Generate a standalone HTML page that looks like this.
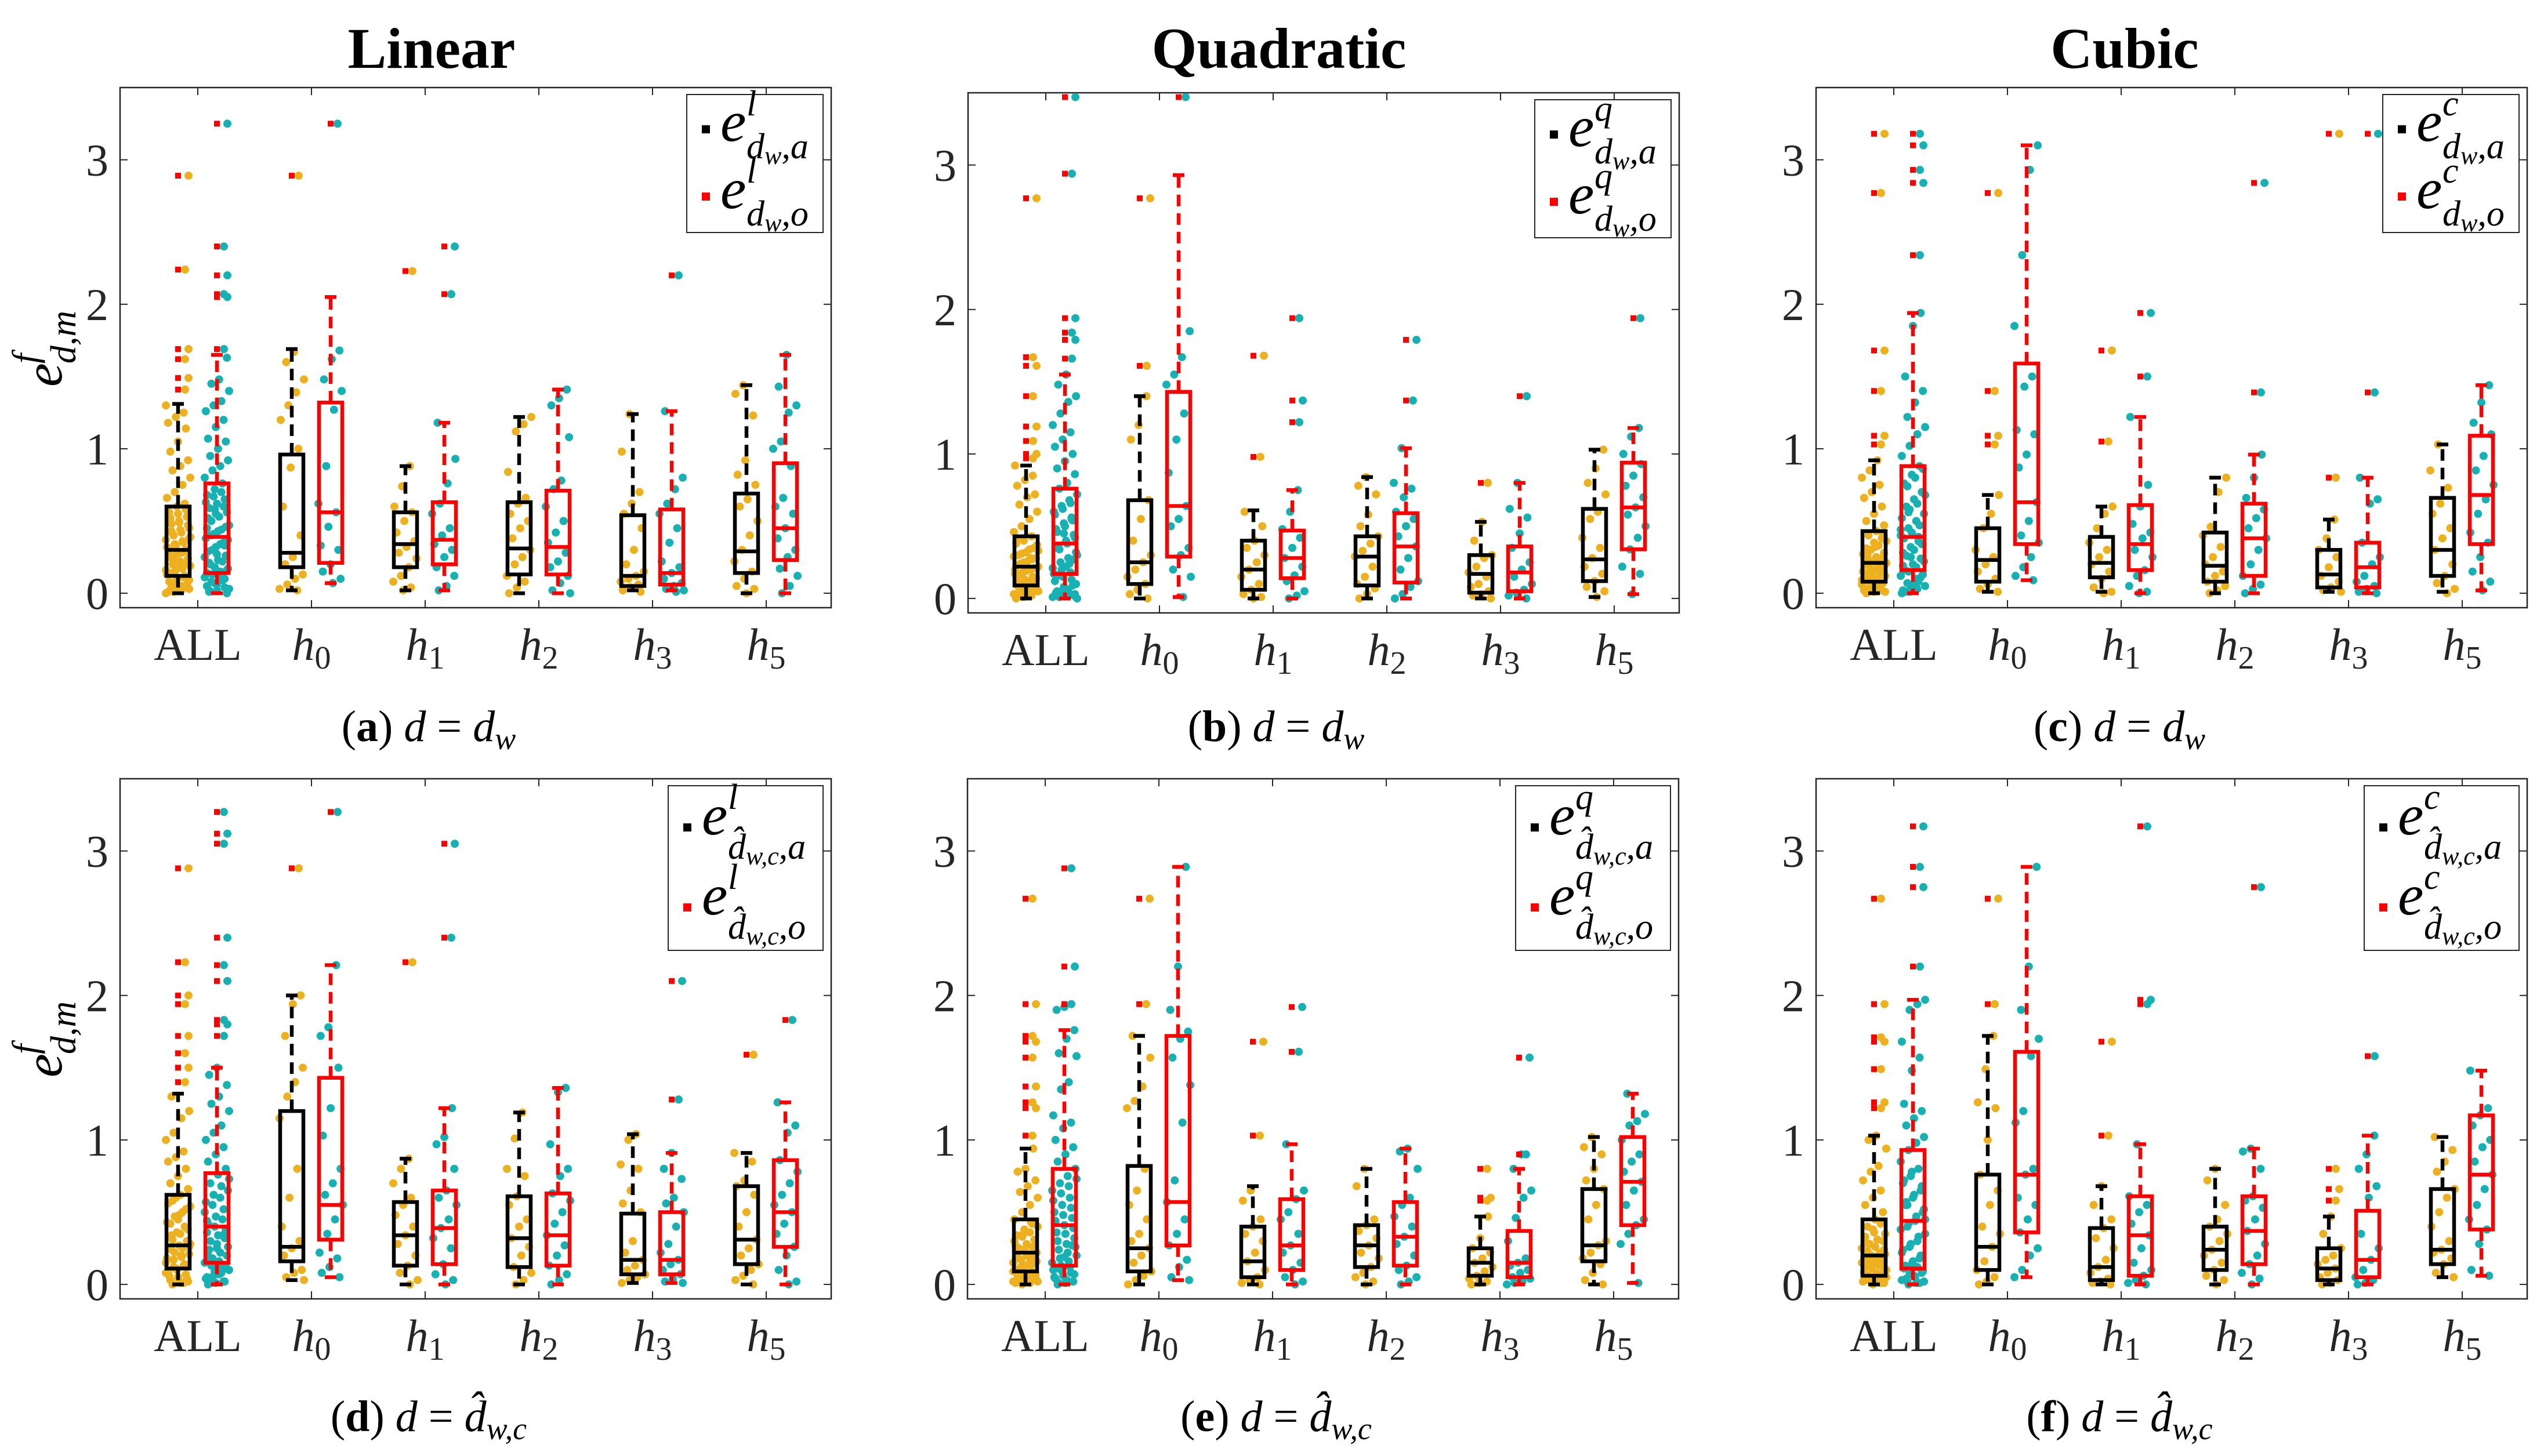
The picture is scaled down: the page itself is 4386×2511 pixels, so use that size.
<!DOCTYPE html>
<html><head><meta charset="utf-8"><style>
html,body{margin:0;padding:0;background:#fff;}
svg{display:block;font-family:"Liberation Serif",serif;}
</style></head><body>
<svg id="fig" xmlns="http://www.w3.org/2000/svg" width="4386" height="2511" viewBox="0 0 4386 2511">
<rect x="0" y="0" width="4386" height="2511" fill="#fff"/>
<text x="744" y="117" font-size="100" font-weight="bold" text-anchor="middle">Linear</text>
<text x="2205" y="117" font-size="100" font-weight="bold" text-anchor="middle">Quadratic</text>
<text x="3663" y="117" font-size="100" font-weight="bold" text-anchor="middle">Cubic</text>
<g transform="translate(106,667) rotate(-90)" font-style="italic">
<text x="0" y="0" font-size="92">e</text><text x="40" y="-42" font-size="62">f</text><text x="40" y="24" font-size="62">d,m</text></g>
<g transform="translate(106,1858) rotate(-90)" font-style="italic">
<text x="0" y="0" font-size="92">e</text><text x="40" y="-42" font-size="62">f</text><text x="40" y="24" font-size="62">d,m</text></g>
<text x="739" y="1278" font-size="76" text-anchor="middle">(<tspan font-weight="bold">a</tspan>) <tspan font-style="italic">d</tspan> = <tspan font-style="italic">d</tspan><tspan font-style="italic" font-size="54" dy="14">w</tspan></text>
<text x="2200" y="1278" font-size="76" text-anchor="middle">(<tspan font-weight="bold">b</tspan>) <tspan font-style="italic">d</tspan> = <tspan font-style="italic">d</tspan><tspan font-style="italic" font-size="54" dy="14">w</tspan></text>
<text x="3654" y="1278" font-size="76" text-anchor="middle">(<tspan font-weight="bold">c</tspan>) <tspan font-style="italic">d</tspan> = <tspan font-style="italic">d</tspan><tspan font-style="italic" font-size="54" dy="14">w</tspan></text>
<text x="739" y="2468" font-size="76" text-anchor="middle">(<tspan font-weight="bold">d</tspan>) <tspan font-style="italic">d</tspan> = <tspan font-style="italic">d̂</tspan><tspan font-style="italic" font-size="54" dy="14">w,c</tspan></text>
<text x="2200" y="2468" font-size="76" text-anchor="middle">(<tspan font-weight="bold">e</tspan>) <tspan font-style="italic">d</tspan> = <tspan font-style="italic">d̂</tspan><tspan font-style="italic" font-size="54" dy="14">w,c</tspan></text>
<text x="3654" y="2468" font-size="76" text-anchor="middle">(<tspan font-weight="bold">f</tspan>) <tspan font-style="italic">d</tspan> = <tspan font-style="italic">d̂</tspan><tspan font-style="italic" font-size="54" dy="14">w,c</tspan></text>
</svg>
<script>
const categories = ['ALL','h0','h1','h2','h3','h5'];
const yTicks = [0,1,2,3];
const yMin = -0.1, yMax = 3.5;

// Panel a (Linear, d = d_w)
const statsA_a = [[0,0.12,0.30,0.60,1.31],[0.02,0.18,0.28,0.96,1.69],[0.02,0.18,0.34,0.56,0.88],[0,0.13,0.31,0.63,1.22],[0.02,0.05,0.12,0.54,1.24],[0,0.14,0.29,0.69,1.44]];
const statsA_o = [[0,0.14,0.39,0.76,1.65],[0.07,0.21,0.56,1.32,2.05],[0.02,0.20,0.37,0.63,1.18],[0,0.13,0.32,0.71,1.41],[0.02,0.06,0.14,0.58,1.26],[0,0.23,0.45,0.90,1.65]];
const outA_a = [[1.41,1.49,1.62,1.69,2.24,2.89],[2.89],[2.23],[],[],[]];
const outA_o = [[1.69,2.05,2.07,2.2,2.4,3.25],[3.25],[2.07,2.4],[],[2.2],[]];
const ptsA_a = [[0,0.01,0.02,0.03,0.04,0.05,0.06,0.08,0.1,0.12,0.13,0.15,0.17,0.19,0.2,0.22,0.24,0.26,0.28,0.3,0.31,0.33,0.35,0.37,0.4,0.42,0.45,0.48,0.5,0.53,0.56,0.6,0.62,0.66,0.7,0.75,0.8,0.85,0.88,0.92,0.98,1.05,1.14,1.18,1.22,1.25,1.3,0.02,0.05,0.09,0.14,0.18,0.21,0.25,0.27,0.29,0.32,0.34,0.36,0.39,0.41,0.44,0.47,0.52,0.55,0.58,0.01,0.07,0.11,0.16,0.23,0.28,0.38,0.43,0.49],
 [0.02,0.03,0.06,0.1,0.13,0.2,0.25,0.4,0.6,0.87,1.0,1.2,1.3,1.39,1.48,1.6,1.67],
 [0.02,0.04,0.08,0.12,0.18,0.24,0.28,0.32,0.36,0.42,0.5,0.56,0.6,0.74,0.88],
 [0,0.04,0.08,0.12,0.2,0.25,0.3,0.38,0.45,0.5,0.55,0.62,0.66,0.84,1.12,1.17,1.22],
 [0.01,0.02,0.04,0.06,0.08,0.1,0.12,0.15,0.2,0.3,0.45,0.55,0.62,0.7,0.98,1.24],
 [0,0.03,0.05,0.1,0.15,0.22,0.3,0.4,0.5,0.6,0.65,0.75,0.82,0.92,1.23,1.38,1.44]];
const ptsA_o = [[0,0.01,0.02,0.04,0.05,0.07,0.09,0.11,0.13,0.15,0.17,0.2,0.23,0.26,0.29,0.32,0.35,0.38,0.41,0.44,0.47,0.5,0.53,0.56,0.59,0.62,0.65,0.68,0.72,0.76,0.8,0.85,0.88,0.92,0.95,1.0,1.05,1.07,1.15,1.2,1.26,1.3,1.33,1.4,1.45,1.48,1.63,0.02,0.06,0.1,0.14,0.18,0.22,0.25,0.3,0.34,0.37,0.4,0.43,0.46,0.52,0.55,0.6,0.63,0.67,0.7,0.03,0.08,0.12,0.16,0.21,0.27,0.33,0.45,0.58],
 [0.07,0.1,0.15,0.2,0.3,0.33,0.46,0.56,0.62,0.88,1.27,1.4,1.48,1.62,1.68],
 [0.02,0.05,0.12,0.18,0.25,0.3,0.34,0.4,0.45,0.55,0.62,0.76,0.93,1.18],
 [0,0.02,0.07,0.12,0.18,0.22,0.28,0.35,0.42,0.5,0.6,0.72,0.78,1.08,1.3,1.35,1.41],
 [0.01,0.02,0.03,0.05,0.07,0.1,0.14,0.18,0.22,0.35,0.45,0.55,0.62,0.72,0.8,1.26],
 [0,0.05,0.12,0.17,0.25,0.3,0.38,0.45,0.55,0.6,0.66,0.88,1.0,1.05,1.25,1.3,1.43,1.65]];

// Panel b (Quadratic, d = d_w)
const statsB_a = [[0,0.09,0.22,0.43,0.92],[0,0.10,0.25,0.68,1.40],[0,0.06,0.20,0.40,0.61],[0,0.09,0.29,0.43,0.84],[0,0.04,0.17,0.30,0.53],[0.01,0.12,0.27,0.62,1.03]];
const statsB_o = [[0,0.17,0.38,0.76,1.55],[0.01,0.29,0.64,1.43,2.93],[0,0.14,0.28,0.47,0.75],[0,0.11,0.36,0.59,1.04],[0,0.05,0.18,0.36,0.80],[0.03,0.34,0.63,0.94,1.18]];
const outB_a = [[0.97,1.0,1.09,1.19,1.4,1.61,1.67,2.77],[1.61,2.77],[0.98,1.68],[],[0.8],[]];
const outB_o = [[1.66,1.79,1.84,1.94,2.94,3.47],[3.47],[1.22,1.37,1.94],[1.37,1.79],[1.4],[1.94]];
const ptsB_a = [[0,0.01,0.02,0.03,0.04,0.05,0.06,0.07,0.08,0.1,0.12,0.13,0.15,0.17,0.18,0.2,0.22,0.24,0.26,0.28,0.3,0.32,0.35,0.38,0.4,0.43,0.46,0.5,0.55,0.6,0.65,0.7,0.72,0.78,0.82,0.85,0.92,0.01,0.03,0.05,0.08,0.11,0.14,0.16,0.19,0.21,0.23,0.25,0.27,0.29,0.31,0.34,0.37,0.02,0.04,0.06,0.09,0.12,0.15,0.2,0.24,0.28,0.33,0.41],
 [0,0.03,0.06,0.1,0.15,0.2,0.25,0.3,0.4,0.55,0.68,1.1,1.2,1.4],
 [0,0.01,0.03,0.06,0.1,0.15,0.2,0.25,0.3,0.35,0.4,0.5,0.6],
 [0,0.03,0.07,0.1,0.15,0.22,0.29,0.33,0.38,0.43,0.5,0.58,0.72,0.78,0.84],
 [0,0.02,0.03,0.05,0.08,0.1,0.15,0.18,0.22,0.28,0.3,0.4,0.53],
 [0.01,0.05,0.08,0.12,0.17,0.22,0.28,0.35,0.42,0.55,0.6,0.72,0.8,0.9,1.03]];
const ptsB_o = [[0,0.01,0.02,0.03,0.05,0.07,0.09,0.12,0.15,0.18,0.21,0.25,0.28,0.32,0.36,0.4,0.44,0.48,0.52,0.56,0.6,0.64,0.68,0.72,0.76,0.8,0.86,0.9,0.95,1.0,1.05,1.1,1.15,1.2,1.28,1.36,1.4,1.48,1.55,0.02,0.04,0.08,0.13,0.17,0.2,0.24,0.3,0.34,0.38,0.42,0.46,0.5,0.54,0.58,0.62,0.66,0.01,0.03,0.06,0.1,0.16,0.22,0.27,0.35,0.45,0.55],
 [0.01,0.15,0.2,0.3,0.35,0.5,0.55,0.64,0.87,1.1,1.28,1.48,1.55,1.67,1.85],
 [0,0.02,0.05,0.12,0.16,0.22,0.28,0.35,0.42,0.48,0.6,0.75],
 [0,0.03,0.08,0.12,0.2,0.28,0.36,0.43,0.5,0.55,0.6,0.7,0.76,0.8,1.04],
 [0,0.02,0.04,0.06,0.1,0.15,0.2,0.25,0.35,0.45,0.56,0.62,0.8],
 [0.03,0.17,0.22,0.34,0.42,0.5,0.58,0.63,0.7,0.78,0.85,0.93,1.0,1.12,1.18]];

// Panel c (Cubic, d = d_w)
const statsC_a = [[0,0.08,0.21,0.43,0.92],[0.01,0.08,0.23,0.45,0.68],[0.01,0.11,0.21,0.39,0.60],[0,0.08,0.19,0.42,0.80],[0.01,0.04,0.13,0.30,0.51],[0.01,0.12,0.30,0.66,1.03]];
const statsC_o = [[0,0.16,0.39,0.88,1.94],[0.09,0.34,0.63,1.59,3.10],[0,0.16,0.34,0.61,1.22],[0,0.12,0.38,0.62,0.96],[0,0.04,0.18,0.35,0.80],[0.02,0.34,0.68,1.09,1.44]];
const outC_a = [[1.03,1.09,1.4,1.68,2.77,3.18],[1.03,1.09,1.4,2.77],[1.05,1.68],[],[0.8,3.18],[]];
const outC_o = [[2.34,2.84,2.93,3.1,3.18],[],[1.5,1.94],[1.39,2.84],[1.39,3.18],[]];
const ptsC_a = [[0,0.01,0.02,0.03,0.04,0.05,0.06,0.08,0.1,0.12,0.14,0.16,0.18,0.2,0.22,0.24,0.27,0.3,0.33,0.36,0.4,0.43,0.47,0.5,0.55,0.6,0.66,0.7,0.75,0.8,0.85,0.92,0.01,0.03,0.05,0.07,0.09,0.11,0.13,0.15,0.17,0.19,0.21,0.23,0.25,0.28,0.31,0.35,0.38,0.02,0.04,0.06,0.09,0.12,0.16,0.2,0.26,0.32,0.41,0.02,0.07,0.14],
 [0.01,0.03,0.06,0.1,0.15,0.2,0.25,0.3,0.45,0.55,0.68],
 [0,0.01,0.04,0.1,0.15,0.2,0.25,0.3,0.35,0.45,0.55,0.6],
 [0,0.02,0.05,0.08,0.12,0.15,0.2,0.25,0.32,0.4,0.46,0.7,0.8],
 [0.01,0.02,0.04,0.08,0.12,0.18,0.25,0.3,0.38,0.51],
 [0,0.03,0.07,0.12,0.2,0.3,0.38,0.45,0.55,0.62,0.73,0.85,1.03]];
const ptsC_o = [[0,0.01,0.03,0.05,0.07,0.1,0.13,0.16,0.2,0.24,0.28,0.32,0.36,0.4,0.45,0.5,0.55,0.6,0.65,0.7,0.76,0.82,0.88,0.95,1.02,1.1,1.15,1.22,1.32,1.4,1.5,1.85,1.94,0.02,0.04,0.08,0.12,0.15,0.18,0.22,0.26,0.3,0.34,0.38,0.42,0.47,0.52,0.58,0.62,0.68,0.74,0.8,0.86,0.01,0.06,0.11,0.19,0.25,0.39,0.44,0.56],
 [0.09,0.12,0.18,0.25,0.35,0.4,0.5,0.63,0.87,0.96,1.1,1.13,1.43,1.5,1.85,2.34,2.93,3.1],
 [0,0.01,0.05,0.12,0.16,0.25,0.3,0.38,0.42,0.48,0.6,0.75,1.22],
 [0,0.03,0.06,0.12,0.2,0.3,0.38,0.45,0.52,0.58,0.66,0.8,0.96],
 [0,0.01,0.03,0.05,0.08,0.12,0.2,0.25,0.35,0.62,0.65,0.8],
 [0.02,0.08,0.15,0.25,0.35,0.42,0.55,0.65,0.75,0.85,0.95,1.1,1.18,1.32,1.44]];

// Panel d (Linear, d = d_hat)
const statsD_a = [[0,0.11,0.27,0.62,1.32],[0.03,0.16,0.26,1.20,2.00],[0,0.13,0.34,0.57,0.87],[0,0.12,0.32,0.61,1.19],[0.01,0.07,0.17,0.49,1.04],[0,0.14,0.31,0.68,0.91]];
const statsD_o = [[0,0.15,0.40,0.77,1.50],[0.05,0.31,0.55,1.43,2.21],[0,0.14,0.39,0.65,1.22],[0,0.13,0.34,0.63,1.36],[0.01,0.07,0.17,0.50,0.91],[0,0.26,0.50,0.86,1.26]];
const outD_a = [[1.4,1.5,1.6,1.72,1.94,2.0,2.23,2.88],[2.88],[2.23],[],[],[1.59]];
const outD_o = [[1.72,1.8,1.83,2.1,2.21,2.4,3.05,3.12,3.27],[3.27],[2.4,3.05],[],[1.28,2.1],[1.83]];
const ptsD_a = [[0,0.01,0.02,0.03,0.05,0.07,0.09,0.11,0.13,0.15,0.17,0.19,0.21,0.24,0.27,0.3,0.33,0.36,0.4,0.43,0.47,0.5,0.54,0.58,0.62,0.66,0.7,0.75,0.8,0.85,0.88,0.92,1.0,1.05,1.15,1.2,1.3,0.02,0.04,0.06,0.1,0.14,0.18,0.22,0.25,0.28,0.31,0.35,0.38,0.42,0.45,0.52,0.56,0.6,0.01,0.08,0.12,0.2,0.26,0.34,0.48],
 [0.03,0.05,0.08,0.1,0.2,0.25,0.3,0.4,0.6,0.8,1.15,1.3,1.4,1.5,1.72,1.94,2.0],
 [0,0.03,0.08,0.13,0.2,0.28,0.34,0.4,0.48,0.55,0.6,0.7,0.8,0.87],
 [0,0.03,0.08,0.12,0.2,0.26,0.32,0.4,0.45,0.55,0.61,0.75,0.8,1.01,1.19],
 [0.01,0.03,0.05,0.07,0.1,0.13,0.17,0.22,0.3,0.5,0.56,0.65,0.8,0.83,1.0,1.04],
 [0,0.03,0.06,0.1,0.14,0.2,0.25,0.31,0.4,0.5,0.62,0.68,0.72,0.85,0.91]];
const ptsD_o = [[0,0.01,0.02,0.04,0.06,0.08,0.1,0.13,0.16,0.2,0.24,0.28,0.32,0.36,0.4,0.45,0.5,0.55,0.6,0.65,0.7,0.76,0.8,0.85,0.9,0.95,1.0,1.05,1.1,1.2,1.25,1.3,1.38,1.45,1.5,0.02,0.05,0.09,0.12,0.15,0.18,0.22,0.26,0.3,0.34,0.38,0.42,0.47,0.52,0.57,0.62,0.68,0.73,0.01,0.07,0.11,0.19,0.25,0.35,0.44],
 [0.05,0.08,0.12,0.18,0.22,0.35,0.45,0.55,0.62,0.7,0.8,1.03,1.22,1.5,1.72,1.78,2.21],
 [0,0.03,0.07,0.14,0.25,0.32,0.39,0.45,0.55,0.6,0.65,0.8,0.97,1.02,1.22],
 [0,0.03,0.07,0.13,0.2,0.27,0.34,0.42,0.5,0.58,0.63,0.75,0.8,0.97,1.33,1.36],
 [0.01,0.02,0.04,0.07,0.1,0.14,0.17,0.22,0.28,0.4,0.5,0.56,0.6,0.73,0.8,0.91],
 [0,0.02,0.1,0.2,0.26,0.35,0.42,0.5,0.55,0.62,0.7,0.78,0.86,1.05,1.1,1.26]];

// Panel e (Quadratic, d = d_hat)
const statsE_a = [[0,0.09,0.22,0.45,0.94],[0,0.09,0.25,0.82,1.72],[0,0.05,0.16,0.40,0.68],[0,0.12,0.27,0.41,0.80],[0,0.06,0.15,0.25,0.47],[0,0.16,0.27,0.66,1.02]];
const statsE_o = [[0,0.13,0.41,0.80,1.76],[0.03,0.27,0.57,1.72,2.89],[0,0.10,0.27,0.59,0.97],[0,0.13,0.33,0.57,0.94],[0,0.05,0.15,0.37,0.80],[0.01,0.41,0.71,1.02,1.32]];
const outE_a = [[1.03,1.22,1.26,1.37,1.57,1.68,1.72,1.94,2.67],[1.94,2.67],[1.03,1.68],[],[0.58,0.6,0.8],[]];
const outE_o = [[1.94,2.2,2.88],[],[1.61,1.92],[],[0.9,1.57],[]];
const ptsE_a = [[0,0.01,0.02,0.03,0.04,0.05,0.06,0.07,0.08,0.1,0.11,0.13,0.15,0.17,0.19,0.22,0.25,0.28,0.31,0.34,0.38,0.42,0.45,0.5,0.55,0.6,0.64,0.68,0.72,0.78,0.8,0.94,0.01,0.03,0.05,0.09,0.12,0.14,0.16,0.18,0.2,0.21,0.23,0.24,0.26,0.3,0.33,0.36,0.4,0.02,0.04,0.07,0.1,0.13,0.17,0.27,0.35,0.43,0.02,0.06],
 [0,0.03,0.06,0.09,0.15,0.2,0.25,0.3,0.35,0.45,0.55,0.65,0.8,1.22,1.27,1.37,1.57,1.72],
 [0,0.01,0.03,0.05,0.1,0.16,0.22,0.3,0.35,0.4,0.45,0.58,0.65],
 [0,0.02,0.05,0.08,0.12,0.18,0.22,0.27,0.32,0.37,0.41,0.45,0.68,0.8],
 [0,0.01,0.02,0.04,0.06,0.09,0.12,0.15,0.18,0.22,0.25,0.32,0.47],
 [0,0.03,0.08,0.14,0.18,0.22,0.27,0.3,0.45,0.55,0.66,0.72,0.8,0.9,0.95,1.02]];
const ptsE_o = [[0,0.01,0.02,0.04,0.06,0.08,0.1,0.13,0.16,0.2,0.24,0.28,0.32,0.36,0.41,0.46,0.5,0.55,0.6,0.65,0.7,0.75,0.8,0.85,0.9,0.95,1.0,1.08,1.12,1.17,1.35,1.4,1.58,1.6,1.7,1.76,1.9,1.92,0.02,0.05,0.09,0.12,0.15,0.18,0.22,0.26,0.3,0.35,0.39,0.44,0.48,0.53,0.58,0.63,0.68,0.73,0.01,0.03,0.07,0.11,0.19,0.27],
 [0.03,0.05,0.12,0.17,0.27,0.35,0.45,0.57,0.72,1.12,1.38,1.57,1.7,1.75,1.9,2.2,2.89],
 [0,0.02,0.05,0.1,0.15,0.22,0.27,0.35,0.45,0.5,0.59,0.65,0.97],
 [0,0.02,0.05,0.1,0.13,0.2,0.28,0.33,0.4,0.47,0.55,0.6,0.8,0.92,0.94],
 [0,0.01,0.02,0.04,0.05,0.08,0.1,0.13,0.15,0.18,0.3,0.46,0.6,0.65,0.8,0.9],
 [0.01,0.28,0.35,0.41,0.45,0.55,0.65,0.71,0.78,0.85,0.9,1.0,1.1,1.13,1.18,1.32]];

// Panel f (Cubic, d = d_hat)
const statsF_a = [[0,0.06,0.20,0.45,1.03],[0,0.10,0.26,0.76,1.72],[0,0.03,0.12,0.39,0.68],[0,0.10,0.24,0.40,0.80],[0,0.03,0.11,0.25,0.47],[0.05,0.14,0.24,0.66,1.02]];
const statsF_o = [[0,0.11,0.44,0.93,1.97],[0.05,0.36,0.76,1.61,2.89],[0,0.06,0.34,0.61,0.97],[0,0.14,0.37,0.61,0.94],[0,0.05,0.17,0.51,1.03],[0.06,0.38,0.76,1.17,1.48]];
const outF_a = [[1.22,1.26,1.49,1.68,1.71,1.94,2.67],[1.94,2.67],[1.03,1.68],[],[0.58,0.66,0.8],[]];
const outF_o = [[2.2,2.75,2.89,3.17],[],[1.94,1.97,3.17],[2.75],[1.58],[]];
const ptsF_a = [[0,0.01,0.02,0.03,0.04,0.05,0.06,0.08,0.1,0.12,0.14,0.16,0.18,0.2,0.22,0.25,0.28,0.31,0.35,0.4,0.45,0.5,0.55,0.6,0.65,0.72,0.78,0.82,0.94,1.0,1.03,0.01,0.03,0.05,0.07,0.09,0.11,0.13,0.15,0.17,0.19,0.21,0.23,0.26,0.3,0.33,0.38,0.42,0.02,0.04,0.07,0.1,0.13,0.16,0.24,0.29,0.36,0.02,0.08],
 [0,0.02,0.05,0.1,0.16,0.26,0.35,0.4,0.55,0.65,0.76,1.0,1.22,1.26,1.49,1.72],
 [0,0.01,0.02,0.04,0.08,0.12,0.17,0.25,0.32,0.39,0.45,0.55,0.68],
 [0,0.03,0.06,0.1,0.15,0.2,0.24,0.3,0.35,0.4,0.45,0.55,0.72,0.8],
 [0,0.01,0.03,0.05,0.08,0.11,0.14,0.17,0.2,0.25,0.35,0.47],
 [0.05,0.08,0.14,0.18,0.22,0.24,0.3,0.4,0.5,0.6,0.66,0.78,0.85,0.93,1.02]];
const ptsF_o = [[0,0.01,0.02,0.04,0.06,0.08,0.11,0.14,0.18,0.22,0.26,0.3,0.35,0.4,0.44,0.5,0.55,0.6,0.65,0.7,0.75,0.8,0.85,0.93,0.98,1.02,1.1,1.15,1.2,1.25,1.48,1.57,1.68,1.9,1.94,1.97,0.02,0.05,0.09,0.13,0.16,0.2,0.24,0.28,0.33,0.38,0.42,0.47,0.52,0.57,0.62,0.68,0.72,0.78,0.01,0.03,0.07,0.12,0.45,0.55],
 [0.05,0.1,0.2,0.25,0.36,0.45,0.55,0.6,0.76,0.8,1.12,1.2,1.58,1.7,1.9,2.2,2.89],
 [0,0.01,0.03,0.06,0.1,0.15,0.25,0.34,0.42,0.5,0.55,0.61,0.97],
 [0,0.04,0.08,0.14,0.2,0.28,0.37,0.45,0.53,0.58,0.61,0.8,0.92,0.94],
 [0,0.01,0.03,0.05,0.1,0.17,0.25,0.35,0.6,0.68,0.8,0.9,1.03],
 [0.06,0.1,0.28,0.38,0.45,0.55,0.66,0.76,0.85,0.95,1.0,1.1,1.17,1.22,1.48]];

const NS = 'http://www.w3.org/2000/svg';
const svg = document.getElementById('fig');
function mk(tag, attrs, parent){
  const e = document.createElementNS(NS, tag);
  for (const k in attrs) e.setAttribute(k, attrs[k]);
  (parent || svg).appendChild(e);
  return e;
}
const panels = [
  {id:'a', left:207, top:151, sup:'l', hat:false, sA:statsA_a, sO:statsA_o, oA:outA_a, oO:outA_o, pA:ptsA_a, pO:ptsA_o},
  {id:'b', left:1669, top:160, sup:'q', hat:false, sA:statsB_a, sO:statsB_o, oA:outB_a, oO:outB_o, pA:ptsB_a, pO:ptsB_o},
  {id:'c', left:3131, top:151, sup:'c', hat:false, sA:statsC_a, sO:statsC_o, oA:outC_a, oO:outC_o, pA:ptsC_a, pO:ptsC_o},
  {id:'d', left:207, top:1343, sup:'l', hat:true, sA:statsD_a, sO:statsD_o, oA:outD_a, oO:outD_o, pA:ptsD_a, pO:ptsD_o},
  {id:'e', left:1668, top:1343, sup:'q', hat:true, sA:statsE_a, sO:statsE_o, oA:outE_a, oO:outE_o, pA:ptsE_a, pO:ptsE_o},
  {id:'f', left:3131, top:1343, sup:'c', hat:true, sA:statsF_a, sO:statsF_o, oA:outF_a, oO:outF_o, pA:ptsF_a, pO:ptsF_o}
];
const W = 1226, H = 897;
const COL_A = '#EDB120', COL_O = '#17B1B3';
function jit(i, seed){ return ((((i * 7919 + seed * 131) % 23) / 22) - 0.5) * 42; }

panels.forEach((p, pi) => {
  const g = mk('g', {});
  
  
  const yS = v => p.top + H - (v - yMin) / (yMax - yMin) * H;
  const xS = i => p.left + 134 + i * 196;
  const fr = mk('rect', {x:p.left, y:p.top, width:W, height:H, fill:'none', stroke:'#262626', 'stroke-width':2.5}, g);
  
  
  yTicks.forEach(t => {
    const y = yS(t);
    mk('line', {x1:p.left, x2:p.left+13, y1:y, y2:y, stroke:'#262626', 'stroke-width':2}, g);
    mk('line', {x1:p.left+W, x2:p.left+W-13, y1:y, y2:y, stroke:'#262626', 'stroke-width':2}, g);
    const tl = mk('text', {x:p.left-20, y:y+27, 'font-size':78, 'text-anchor':'end', fill:'#262626'}, g);
    tl.textContent = t;
    
    
  });
  categories.forEach((c, i) => {
    const x = xS(i);
    mk('line', {x1:x, x2:x, y1:p.top+H, y2:p.top+H-13, stroke:'#262626', 'stroke-width':2}, g);
    mk('line', {x1:x, x2:x, y1:p.top, y2:p.top+13, stroke:'#262626', 'stroke-width':2}, g);
    const xl = mk('text', {x:x, y:p.top+H+90, 'font-size':78, 'text-anchor':'middle', fill:'#262626'}, g);
    
    
    if (c === 'ALL') { xl.textContent = c; }
    else {
      const t1 = mk('tspan', {'font-style':'italic'}, xl); t1.textContent = c[0];
      const t2 = mk('tspan', {'font-size':56, dy:15}, xl); t2.textContent = c.slice(1);
    }
  });
  const series = [
    {s:p.sA, o:p.oA, pts:p.pA, off:-34, line:'#000', dot:COL_A, key:'a'},
    {s:p.sO, o:p.oO, pts:p.pO, off:33, line:'#f00', dot:COL_O, key:'o'}
  ];
  series.forEach((se, si) => {
    categories.forEach((c, i) => {
      const cx = xS(i) + se.off;
      se.pts[i].forEach((v, k) => {
        const d = mk('circle', {cx:cx + jit(k, i + si*7 + pi*3), cy:yS(v), r:7, fill:se.dot}, g);
        
        
      });
      se.o[i].forEach((v, k) => {
        const d = mk('circle', {cx:cx + 12 + (k%2)*6, cy:yS(v), r:7, fill:se.dot}, g);
        
        
      });
    });
  });
  series.forEach(se => {
    categories.forEach((c, i) => {
      const cx = xS(i) + se.off;
      const [lo, q1, md, q3, hi] = se.s[i];
      const bg = mk('g', {}, g);
      
      
      mk('line', {x1:cx, x2:cx, y1:yS(q3), y2:yS(hi), stroke:se.line, 'stroke-width':6.5, 'stroke-dasharray':'20 12'}, bg);
      mk('line', {x1:cx, x2:cx, y1:yS(q1), y2:yS(lo), stroke:se.line, 'stroke-width':6.5, 'stroke-dasharray':'20 12'}, bg);
      mk('line', {x1:cx-10, x2:cx+10, y1:yS(hi), y2:yS(hi), stroke:se.line, 'stroke-width':6.5}, bg);
      mk('line', {x1:cx-10, x2:cx+10, y1:yS(lo), y2:yS(lo), stroke:se.line, 'stroke-width':6.5}, bg);
      mk('rect', {x:cx-20, y:yS(q3), width:40, height:yS(q1)-yS(q3), fill:'none', stroke:se.line, 'stroke-width':6.5}, bg);
      mk('line', {x1:cx-20, x2:cx+20, y1:yS(md), y2:yS(md), stroke:se.line, 'stroke-width':6.5}, bg);
      se.o[i].forEach(v => {
        const m = mk('rect', {x:cx-5, y:yS(v)-5, width:10, height:10, fill:'#f00'}, bg);
        
        
      });
    });
  });
  const lw = p.hat ? 267 : 235, lh = p.hat ? 284 : 238;
  const lx = p.left + W - 14 - lw, ly = p.top + 12;
  const lg = mk('g', {}, g);
  
  
  mk('rect', {x:lx, y:ly, width:lw, height:lh, fill:'#fff', stroke:'#262626', 'stroke-width':2}, lg);
  ['a','o'].forEach((k, ei) => {
    const oy = ly + (p.hat ? ei*138 : ei*116);
    const ent = mk('g', {}, lg);
    
    
    const my = oy + (p.hat ? 72 : 60);
    mk('rect', {x:lx+26, y:my-7, width:14, height:14, fill: k==='a' ? '#000' : '#f00'}, ent);
    const base = oy + (p.hat ? 84 : 80);
    const te = mk('text', {x:lx+58, y:base, 'font-size':100, 'font-style':'italic'}, ent); te.textContent = 'e';
    const ts = mk('text', {x:lx+103, y:base-44, 'font-size':62, 'font-style':'italic'}, ent); ts.textContent = p.sup;
    const sb = mk('text', {x:lx+103, y:base + (p.hat ? 42 : 30), 'font-size':62, 'font-style':'italic'}, ent);
    const s1 = mk('tspan', {}, sb); s1.textContent = p.hat ? 'd̂' : 'd';
    const s2 = mk('tspan', {'font-size':44, dy:10}, sb); s2.textContent = p.hat ? 'w,c' : 'w';
    const s3 = mk('tspan', {dy:-10}, sb); s3.textContent = ',' + k;
  });
});
</script>
</body></html>
